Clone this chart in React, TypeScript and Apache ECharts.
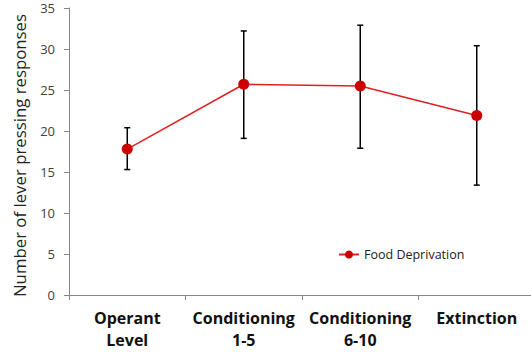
import React, { useEffect, useRef } from "react";
import * as echarts from "echarts";

const categories = ["Operant\nLevel", "Conditioning\n1-5", "Conditioning\n6-10", "Extinction"];
const means = [17.8, 25.7, 25.5, 21.9];
const upper = [20.4, 32.2, 32.9, 30.4];
const lower = [15.3, 19.1, 17.9, 13.4];
const seriesName = "Food Deprivation";

export default function App() {
  const ref = useRef<HTMLDivElement>(null);
  useEffect(() => {
    if (!ref.current) return;
    const chart = echarts.init(ref.current, undefined, { renderer: "svg" });
    const errData = categories.map((_, i) => [i, lower[i], upper[i]]);
    chart.setOption({
      animation: false,
      textStyle: { fontFamily: "'Open Sans', sans-serif" },
      grid: { left: 69, right: -4, top: 8, bottom: 57, outerBoundsMode: "none", containLabel: false },
      legend: {
        left: 333,
        top: 243,
        itemWidth: 20,
        itemHeight: 10,
        itemGap: 4,
        textStyle: { fontSize: 12.5, color: "#222", fontFamily: "'Open Sans', sans-serif" },
        data: [seriesName],
      },
      xAxis: {
        type: "category",
        data: categories,
        axisLine: { lineStyle: { color: "#868686", width: 1 } },
        axisTick: { show: true, length: 5, lineStyle: { color: "#868686" } },
        axisLabel: {
          color: "#111",
          fontSize: 16,
          fontWeight: "bold",
          lineHeight: 22,
          margin: 12,
          interval: 0,
        },
      },
      yAxis: {
        type: "value",
        min: 0,
        max: 35,
        interval: 5,
        name: "Number of lever pressing responses",
        nameLocation: "middle",
        nameGap: 41,
        nameTextStyle: { fontSize: 16.8, color: "#222", padding: [0, 8, 0, 0] },
        axisLine: { show: true, lineStyle: { color: "#868686", width: 1 } },
        axisTick: { show: true, length: 5, lineStyle: { color: "#868686" } },
        splitLine: { show: false },
        axisLabel: { fontSize: 13, color: "#404040", margin: 14 },
      },
      series: [
        {
          type: "custom",
          name: "err",
          silent: true,
          data: errData,
          z: 1,
          renderItem: (params: any, api: any) => {
            const x = api.value(0);
            const lo = api.coord([x, api.value(1)]);
            const hi = api.coord([x, api.value(2)]);
            const w = 3;
            const style = { stroke: "#000", lineWidth: 1.5 };
            return {
              type: "group",
              children: [
                { type: "line", shape: { x1: lo[0], y1: lo[1], x2: hi[0], y2: hi[1] }, style },
                { type: "line", shape: { x1: hi[0] - w, y1: hi[1], x2: hi[0] + w, y2: hi[1] }, style },
                { type: "line", shape: { x1: lo[0] - w, y1: lo[1], x2: lo[0] + w, y2: lo[1] }, style },
              ],
            };
          },
        },
        {
          type: "line",
          name: seriesName,
          data: means,
          z: 3,
          symbol: "circle",
          symbolSize: 11,
          itemStyle: { color: "#cc0000" },
          lineStyle: { color: "#dd2222", width: 1.5 },
        },
      ],
    });
    return () => chart.dispose();
  }, []);
  return <div ref={ref} style={{ position: "absolute", left: 0, top: 0, width: 531, height: 352 }} />;
}
